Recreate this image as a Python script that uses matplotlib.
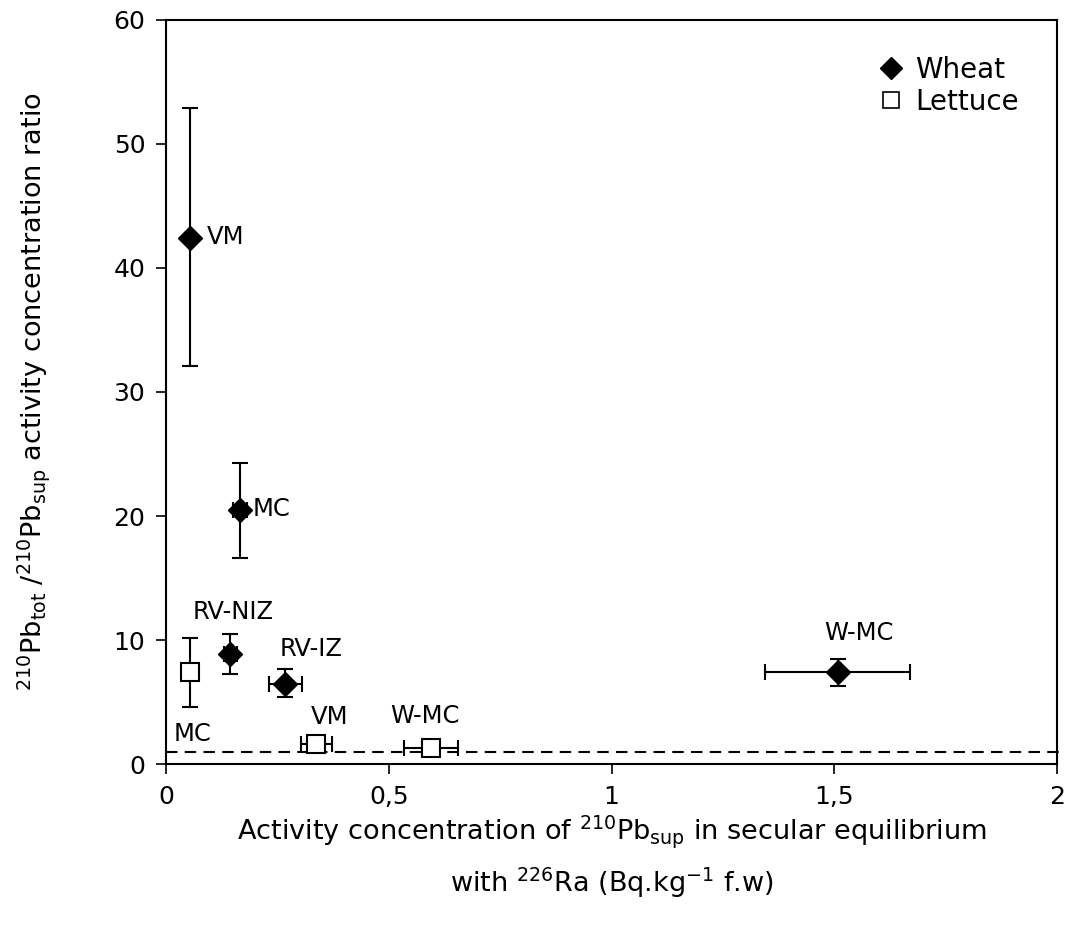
import numpy as np
import matplotlib
matplotlib.use("Agg")
import matplotlib.pyplot as plt
from matplotlib.lines import Line2D

plt.rcParams["font.family"] = ["DejaVu Sans"]
plt.rcParams["mathtext.default"] = "regular"

# ── Data ─────────────────────────────────────────────────────────────────────
wheat_sites = ["VM", "MC", "RV-NIZ", "RV-IZ", "W-MC"]
wheat_x     = np.array([0.054, 0.166, 0.144, 0.267, 1.508])
wheat_xerr  = np.array([0.0, 0.015, 0.015, 0.037, 0.163])
wheat_y     = np.array([42.4, 20.5, 8.9, 6.5, 7.4])
wheat_ylo   = np.array([10.3, 3.9, 1.6, 1.1, 1.1])
wheat_yhi   = np.array([10.5, 3.8, 1.6, 1.2, 1.1])

lettuce_sites = ["MC", "VM", "W-MC"]
lettuce_x     = np.array([0.054, 0.337, 0.595])
lettuce_xerr  = np.array([0.0, 0.035, 0.06])
lettuce_y     = np.array([7.4, 1.6, 1.3])
lettuce_yerr  = np.array([2.8, 0.0, 0.0])

# where each site name sits (data units)
wheat_lab_x   = [0.092, 0.193, 0.150, 0.325, 1.555]
wheat_lab_y   = [42.5, 20.6, 12.3, 9.3, 10.6]
wheat_lab_ha  = ["left", "left", "center", "center", "center"]
lettuce_lab_x = [0.060, 0.367, 0.582]
lettuce_lab_y = [2.4, 3.8, 3.9]

EB = dict(fmt="none", ecolor="black", elinewidth=1.5, capsize=6, capthick=1.5, zorder=2)

fig = plt.figure(figsize=(10.72, 9.4), dpi=100)
ax = fig.add_axes([0.155, 0.187, 0.831, 0.792])

# error bars (only where there is one, so no stray caps)
m = wheat_ylo > 0
ax.errorbar(wheat_x[m], wheat_y[m], yerr=[wheat_ylo[m], wheat_yhi[m]], **EB)
m = wheat_xerr > 0
ax.errorbar(wheat_x[m], wheat_y[m], xerr=wheat_xerr[m], **EB)
m = lettuce_yerr > 0
ax.errorbar(lettuce_x[m], lettuce_y[m], yerr=lettuce_yerr[m], **EB)
m = lettuce_xerr > 0
ax.errorbar(lettuce_x[m], lettuce_y[m], xerr=lettuce_xerr[m], **EB)

ax.plot(wheat_x, wheat_y, "D", color="black", ms=12, ls="none", zorder=3)
ax.plot(lettuce_x, lettuce_y, "s", mfc="white", mec="black", mew=1.5, ms=13,
        ls="none", zorder=3)

for s, x, y, ha in zip(wheat_sites, wheat_lab_x, wheat_lab_y, wheat_lab_ha):
    ax.text(x, y, s, ha=ha, va="center", fontsize=17.5, zorder=4)
for s, x, y in zip(lettuce_sites, lettuce_lab_x, lettuce_lab_y):
    ax.text(x, y, s, ha="center", va="center", fontsize=17.5)

ax.plot([0, 2.012], [1, 1], ls=(0, (5.5, 3.5)), color="black", lw=1.5,
        clip_on=False, zorder=2)

ax.set_xlim(0, 2)
ax.set_ylim(0, 60)
ax.set_xticks([0, 0.5, 1, 1.5, 2])
ax.set_xticklabels(["0", "0,5", "1", "1,5", "2"])
ax.set_yticks(range(0, 61, 10))
ax.tick_params(direction="out", length=7, width=1.2, labelsize=18, pad=8)
for sp in ax.spines.values():
    sp.set_linewidth(1.5)

ax.set_xlabel("Activity concentration of $^{210}$Pb$_{sup}$ in secular equilibrium\n"
              "with $^{226}$Ra (Bq.kg$^{-1}$ f.w)", fontsize=19.5, linespacing=1.6,
              labelpad=3)
ax.set_ylabel("$^{210}$Pb$_{tot}$ /$^{210}$Pb$_{sup}$ activity concentration ratio",
              fontsize=19.5)
ax.yaxis.set_label_coords(-0.128, 0.5)

handles = [
    Line2D([], [], marker="D", color="black", ls="none", ms=11),
    Line2D([], [], marker="s", mfc="white", mec="black", mew=1.2, ls="none", ms=12),
]
ax.legend(handles, ["Wheat", "Lettuce"], loc="upper right", frameon=False,
          fontsize=20, handletextpad=0.3, handlelength=1.1, labelspacing=0.15,
          bbox_to_anchor=(0.985, 0.985))

fig.savefig("out.png", dpi=100)
